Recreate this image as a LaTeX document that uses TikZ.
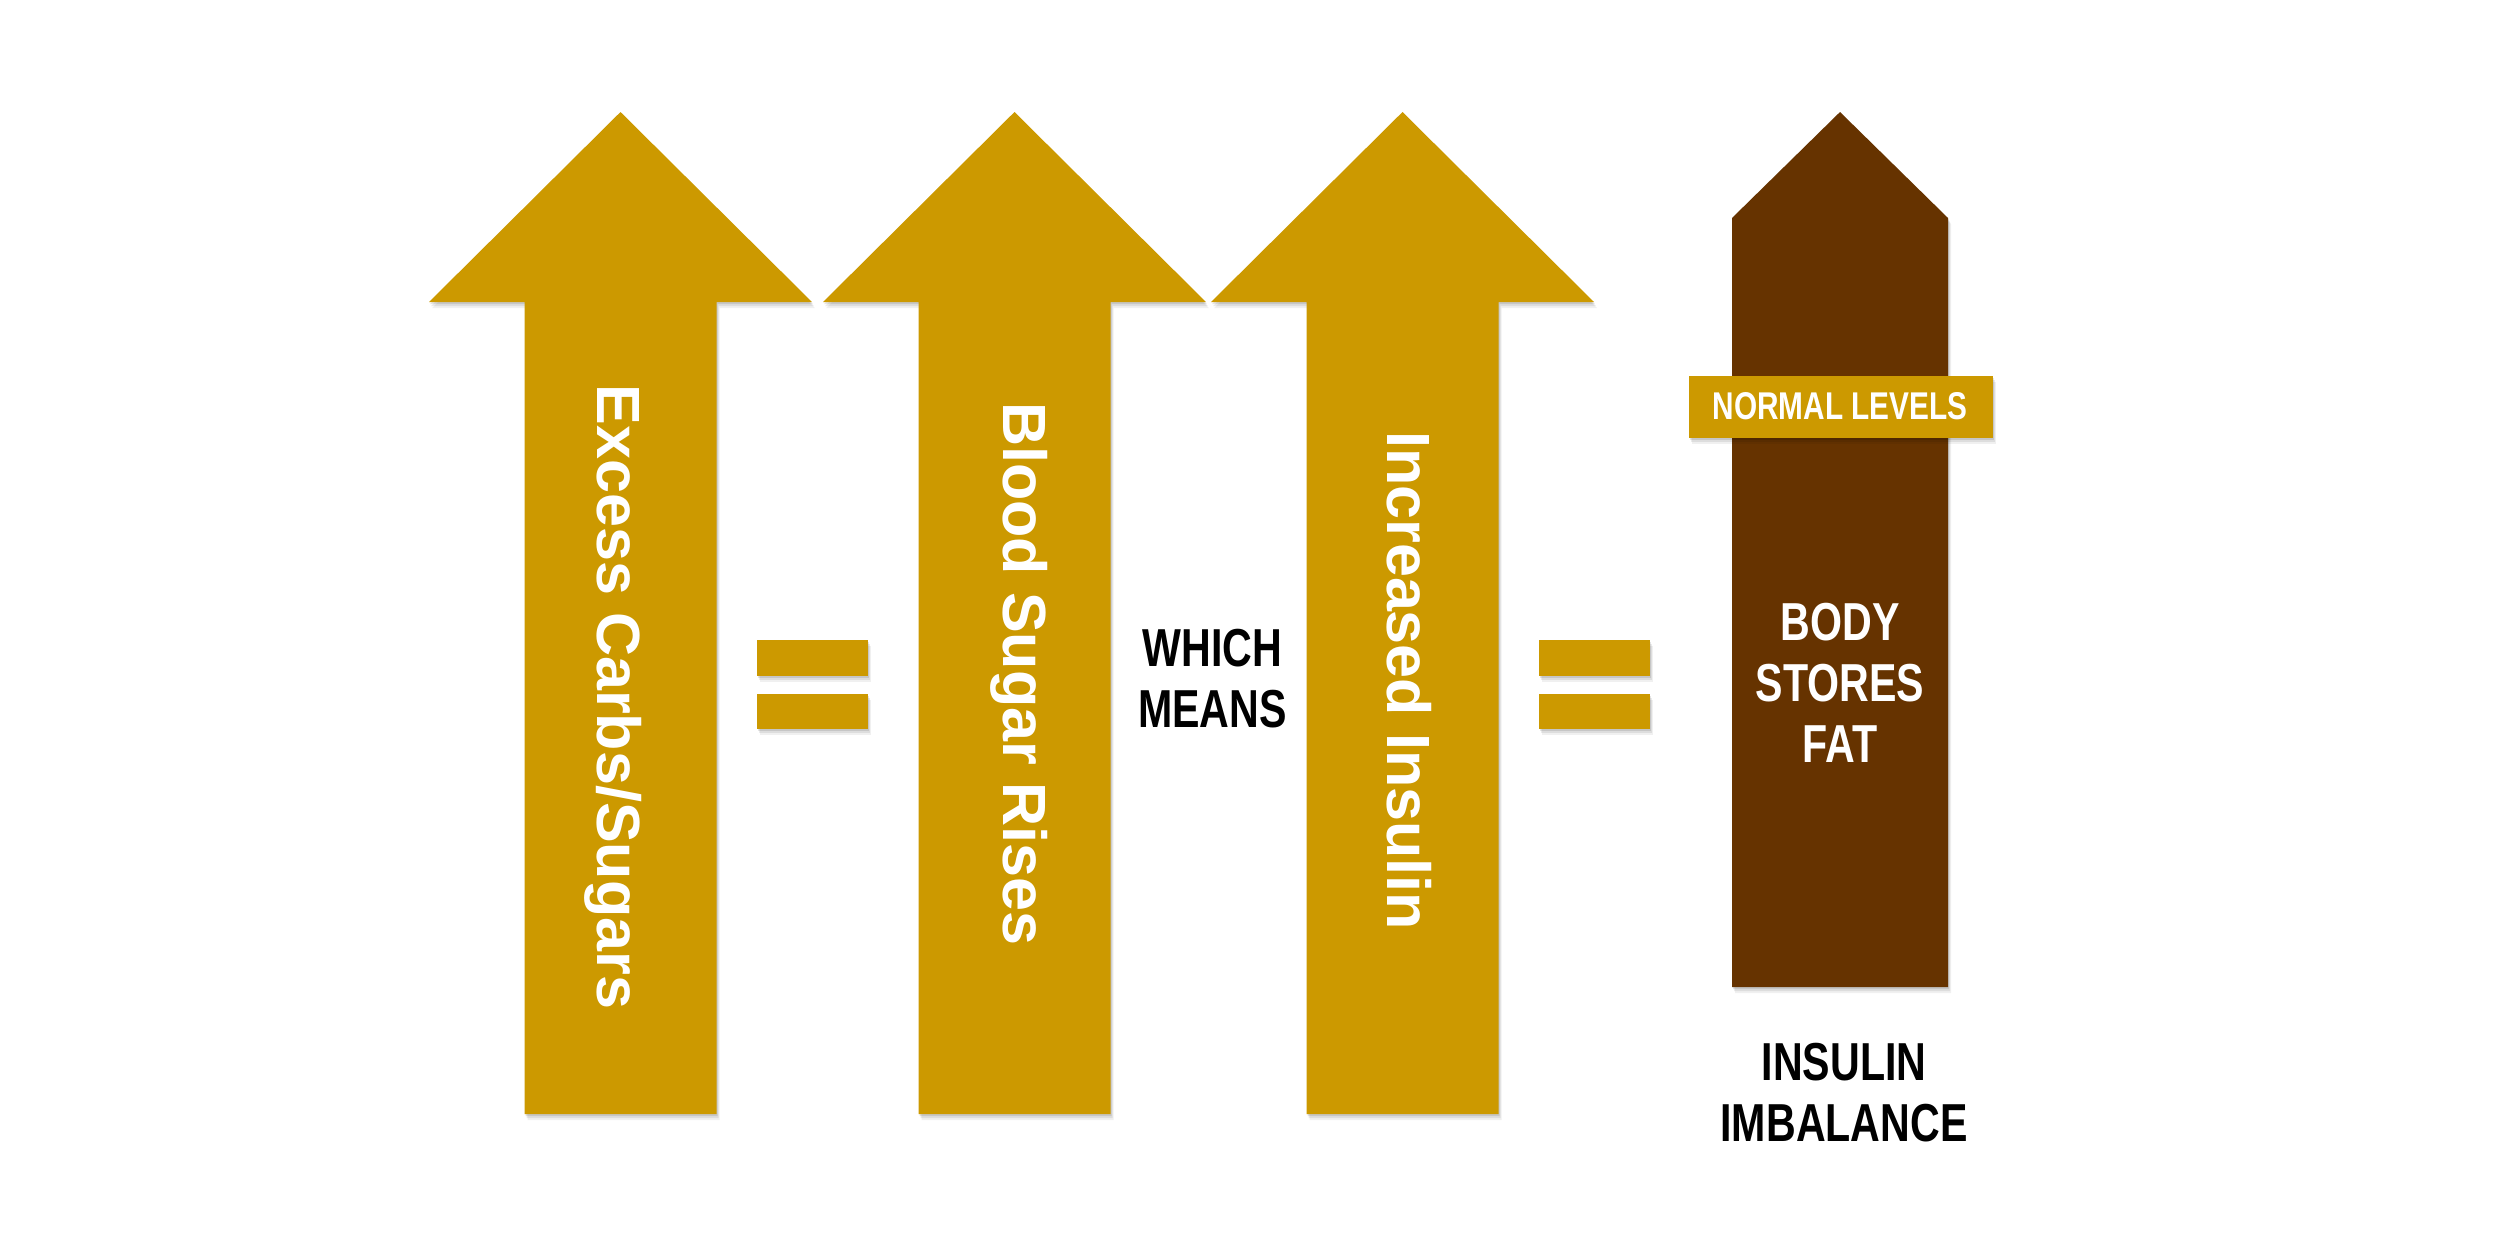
\documentclass[tikz,border=0pt]{standalone}
\usepackage{fontspec}
\setmainfont{Liberation Sans}
\newfontfamily\condfont[FakeStretch=0.77]{Liberation Sans}
\definecolor{gold}{RGB}{204,153,0}
\definecolor{brownc}{RGB}{102,51,0}
\newcommand\goldarrowpath[1]{(#1,112) -- (#1+191.5,302) -- (#1+96,302) -- (#1+96,1114) -- (#1-96,1114) -- (#1-96,302) -- (#1-191.5,302) -- cycle}
\newcommand\softshadow[1]{%
  \foreach \dx/\dy/\op in {1/2/0.10, 2/4/0.08, 3/6/0.06}{%
    \fill[black, opacity=\op, shift={(\dx,\dy)}] #1;}}
\tikzset{
  goldshape/.style={fill=gold},
  brownshape/.style={fill=brownc},
  vlabel/.style={rotate=-90, anchor=base west, inner sep=0pt, outer sep=0pt, text=white,
    font=\bfseries\fontsize{17.36}{20}\selectfont},
  caplabel/.style={inner sep=0pt, outer sep=0pt, align=center,
    font=\condfont\bfseries\fontsize{15.2}{17.4}\selectfont},
  smalllabel/.style={inner sep=0pt, outer sep=0pt, text=white,
    font=\condfont\bfseries\fontsize{11}{13}\selectfont},
}
\begin{document}
\begin{tikzpicture}[x=0.01cm, y=-0.01cm]
\useasboundingbox (0,0) rectangle (2500,1250);
\fill[white] (0,0) rectangle (2500,1250);

% gold arrows
\softshadow{\goldarrowpath{620.5}}
\fill[goldshape] \goldarrowpath{620.5};
\softshadow{\goldarrowpath{1014.5}}
\fill[goldshape] \goldarrowpath{1014.5};
\softshadow{\goldarrowpath{1402.5}}
\fill[goldshape] \goldarrowpath{1402.5};

% brown arrow
\softshadow{(1840,112) -- (1948,218) -- (1948,987) -- (1732,987) -- (1732,218) -- cycle}
\fill[brownshape] (1840,112) -- (1948,218) -- (1948,987) -- (1732,987) -- (1732,218) -- cycle;

% normal levels band
\softshadow{(1688.7,376) rectangle (1993,438)}
\fill[goldshape] (1688.7,376) rectangle (1993,438);
\node[smalllabel, anchor=base] (normal) at (1840,419.3) {NORMAL LEVELS};

% equals signs
\softshadow{(757,640) rectangle (868,675.5)}
\fill[goldshape] (757,640) rectangle (868,675.5);
\softshadow{(757,693.7) rectangle (868,729)}
\fill[goldshape] (757,693.7) rectangle (868,729);
\softshadow{(1539,640) rectangle (1650,675.5)}
\fill[goldshape] (1539,640) rectangle (1650,675.5);
\softshadow{(1539,693.7) rectangle (1650,729)}
\fill[goldshape] (1539,693.7) rectangle (1650,729);

% vertical labels
\node[vlabel] (excess) at (597.3,384.8) {Excess Carbs/Sugars};
\node[vlabel] (blood) at (1003.3,402.2) {Blood Sugar Rises};
\node[vlabel] (insulin) at (1387.7,431.1) {Increased Insulin};

% caption texts
\node[caplabel, anchor=north, text=black] (which) at (1212.5,629.3) {WHICH\\MEANS};
\node[caplabel, anchor=north, text=white] (body) at (1840,602.7) {BODY\\STORES\\FAT};
\node[caplabel, anchor=north, text=black] (imbalance) at (1844,1042.7) {INSULIN\\IMBALANCE};
\end{tikzpicture}
\end{document}
